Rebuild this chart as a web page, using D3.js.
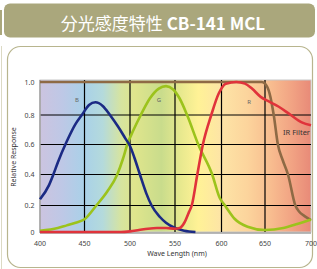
<!DOCTYPE html>
<html>
<head>
<meta charset="utf-8">
<script src="https://cdn.jsdelivr.net/npm/d3@7"></script>
<style>
  body { margin: 0; background: #fff; }
  svg { display: block; font-family: "Noto Sans", "DejaVu Sans", sans-serif; }
</style>
</head>
<body>
<div id="chart"></div>
<script>
// data (wavelength nm, relative response)
var blueWl  = [400, 410, 415, 420, 430, 440, 447, 455, 462, 470, 478, 487, 495, 500, 505, 511, 518, 524, 533, 540, 550, 560, 572];
var blueVal = [0.24, 0.33, 0.40, 0.48, 0.62, 0.74, 0.80, 0.86, 0.877, 0.855, 0.80, 0.72, 0.64, 0.59, 0.51, 0.40, 0.28, 0.20, 0.115, 0.07, 0.03, 0.01, 0.0];

var greenWl  = [400, 420, 430, 440, 450, 463, 475, 486, 492, 497, 504, 512, 522, 532, 540, 548, 555, 563, 575, 590, 598, 604, 615, 630, 650, 670, 685, 700];
var greenVal = [0.01, 0.03, 0.05, 0.07, 0.096, 0.2, 0.29, 0.4, 0.5, 0.6, 0.7, 0.8, 0.9, 0.96, 0.975, 0.955, 0.9, 0.8, 0.6, 0.4, 0.25, 0.2, 0.1, 0.04, 0.015, 0.03, 0.06, 0.095];

var redWl  = [400, 450, 490, 500, 510, 520, 530, 540, 550, 555, 560, 565, 568, 574, 580, 589, 597, 605, 617, 627, 635, 645, 655, 665, 678, 690, 700];
var redVal = [0.0, 0.0, 0.0, 0.005, 0.015, 0.025, 0.03, 0.03, 0.025, 0.03, 0.07, 0.15, 0.2, 0.4, 0.6, 0.8, 0.93, 0.99, 1.0, 0.99, 0.96, 0.91, 0.88, 0.85, 0.8, 0.75, 0.73];

var irWl  = [400, 646, 650, 655, 659.5, 664, 669, 675, 683, 687, 693, 700];
var irVal = [1.0, 1.0, 0.99, 0.93, 0.8, 0.6, 0.5, 0.4, 0.2, 0.155, 0.12, 0.09];

var xTicks = [400, 450, 500, 550, 600, 650, 700];
var yTicks = [0, 0.2, 0.4, 0.6, 0.8, 1.0];
var yTickLabels = ['0', '0.2', '0.4', '0.6', '0.8', '1.0'];

var W = 317, H = 269;

var svg = d3.select('#chart')
    .append('svg')
    .attr('width', W)
    .attr('height', H);

// title bar
svg.append('rect')
    .attr('x', 0).attr('y', 10)
    .attr('width', 2).attr('height', 25)
    .attr('fill', '#aaa77c');
svg.append('rect')
    .attr('x', 4).attr('y', 3.5)
    .attr('width', 311).attr('height', 34)
    .attr('rx', 6)
    .attr('fill', '#aaa77c');

var title = svg.append('text')
    .attr('x', 163)
    .attr('y', 30)
    .attr('text-anchor', 'middle')
    .attr('fill', '#fff')
    .style('font-family', '"Noto Sans CJK JP", sans-serif')
    .style('font-size', '17px');
title.append('tspan').text('分光感度特性 ');
title.append('tspan').style('font-weight', 'bold').text('CB-141 MCL');

// panel
svg.append('line')
    .attr('x1', 1.5).attr('x2', 1.5)
    .attr('y1', 46).attr('y2', H)
    .attr('stroke', '#dcdac4')
    .attr('stroke-width', 1);
svg.append('rect')
    .attr('x', 7.5).attr('y', 46.5)
    .attr('width', 305).attr('height', 221)
    .attr('rx', 13)
    .attr('fill', '#fff')
    .attr('stroke', '#b8b58e')
    .attr('stroke-width', 1.2);

// scales (gridlines in the original are not quite evenly spaced)
var x = d3.scaleLinear()
    .domain(xTicks)
    .range([40, 84.5, 130, 175, 221.5, 265, 311]);
var y = d3.scaleLinear()
    .domain(yTicks)
    .range([232, 205.5, 174.5, 144.5, 115, 82]);

// spectrum background
var defs = svg.append('defs');
var grad = defs.append('linearGradient')
    .attr('id', 'spectrum')
    .attr('x1', '0%').attr('x2', '100%')
    .attr('y1', '0%').attr('y2', '0%');
var stops = [
    [400, '#ccc4e0'], [425, '#bec8e6'], [450, '#a9d1e8'], [470, '#b4dadc'],
    [490, '#d6e4a0'], [505, '#dfe58c'], [535, '#c9dc8c'], [555, '#e6e88e'],
    [575, '#fff296'], [600, '#fde4a6'], [630, '#fcd49c'], [655, '#f8be90'],
    [680, '#f1a283'], [700, '#e88a78']
];
grad.selectAll('stop')
    .data(stops)
    .enter()
    .append('stop')
    .attr('offset', function(d) { return ((x(d[0]) - x(400)) / (x(700) - x(400)) * 100) + '%'; })
    .attr('stop-color', function(d) { return d[1]; });

svg.append('rect')
    .attr('x', x(400)).attr('y', y(1) - 2)
    .attr('width', x(700) - x(400)).attr('height', y(0) - y(1) + 2)
    .attr('fill', 'url(#spectrum)')
    .attr('stroke', '#c8c8c8')
    .attr('stroke-width', 1);

// grid
svg.append('g')
    .selectAll('line')
    .data(xTicks.slice(1, -1))
    .enter()
    .append('line')
    .attr('x1', function(d) { return x(d); })
    .attr('x2', function(d) { return x(d); })
    .attr('y1', y(1) - 2)
    .attr('y2', y(0))
    .attr('stroke', '#000')
    .attr('stroke-width', 1.2);
svg.append('g')
    .selectAll('line')
    .data(yTicks.slice(1, -1))
    .enter()
    .append('line')
    .attr('x1', x(400))
    .attr('x2', x(700))
    .attr('y1', function(d) { return y(d); })
    .attr('y2', function(d) { return y(d); })
    .attr('stroke', '#000')
    .attr('stroke-width', 1.2);

// axes lines
svg.append('line')
    .attr('x1', x(400)).attr('x2', x(400))
    .attr('y1', y(1) - 2).attr('y2', y(0) + 1)
    .attr('stroke', '#a0a0a0').attr('stroke-width', 1.5);
svg.append('line')
    .attr('x1', x(400)).attr('x2', x(700))
    .attr('y1', y(0) + 1).attr('y2', y(0) + 1)
    .attr('stroke', '#a0a0a0').attr('stroke-width', 1.5);

// curves
var line = d3.line()
    .x(function(d) { return x(d[0]); })
    .y(function(d) { return y(d[1]); })
    .curve(d3.curveMonotoneX);

function drawCurve(wl, vals, color) {
    svg.append('path')
        .datum(d3.zip(wl, vals))
        .attr('d', line)
        .attr('fill', 'none')
        .attr('stroke', color)
        .attr('stroke-width', 2.6)
        .attr('stroke-linejoin', 'round');
}
drawCurve(irWl, irVal, '#8e6a45');
drawCurve(greenWl, greenVal, '#9cc31c');
drawCurve(blueWl, blueVal, '#1b2a84');
drawCurve(redWl, redVal, '#e0333b');

// curve labels
var labels = [['B', 77, 102], ['G', 159, 102], ['R', 249, 104]];
svg.append('g')
    .selectAll('text')
    .data(labels)
    .enter()
    .append('text')
    .attr('x', function(d) { return d[1]; })
    .attr('y', function(d) { return d[2]; })
    .attr('text-anchor', 'middle')
    .attr('fill', '#666')
    .style('font-size', '6px')
    .text(function(d) { return d[0]; });

svg.append('text')
    .attr('x', 283)
    .attr('y', 134.5)
    .attr('fill', '#333')
    .style('font-size', '7.5px')
    .text('IR Filter');

// tick labels
svg.append('g')
    .selectAll('text')
    .data(xTicks)
    .enter()
    .append('text')
    .attr('x', function(d) { return x(d); })
    .attr('y', 245.5)
    .attr('text-anchor', 'middle')
    .attr('fill', '#444')
    .style('font-size', '7px')
    .text(function(d) { return d; });

svg.append('g')
    .selectAll('text')
    .data(yTicks)
    .enter()
    .append('text')
    .attr('x', 34.5)
    .attr('y', function(d) { return y(d) + 2.5; })
    .attr('text-anchor', 'end')
    .attr('fill', '#444')
    .style('font-size', '7px')
    .text(function(d, i) { return yTickLabels[i]; });

// axis titles
svg.append('text')
    .attr('x', 177)
    .attr('y', 256)
    .attr('text-anchor', 'middle')
    .attr('fill', '#333')
    .style('font-size', '7px')
    .text('Wave Length (nm)');

svg.append('text')
    .attr('transform', 'translate(16,157) rotate(-90)')
    .attr('text-anchor', 'middle')
    .attr('fill', '#333')
    .style('font-size', '7px')
    .text('Relative Response');
</script>
</body>
</html>
